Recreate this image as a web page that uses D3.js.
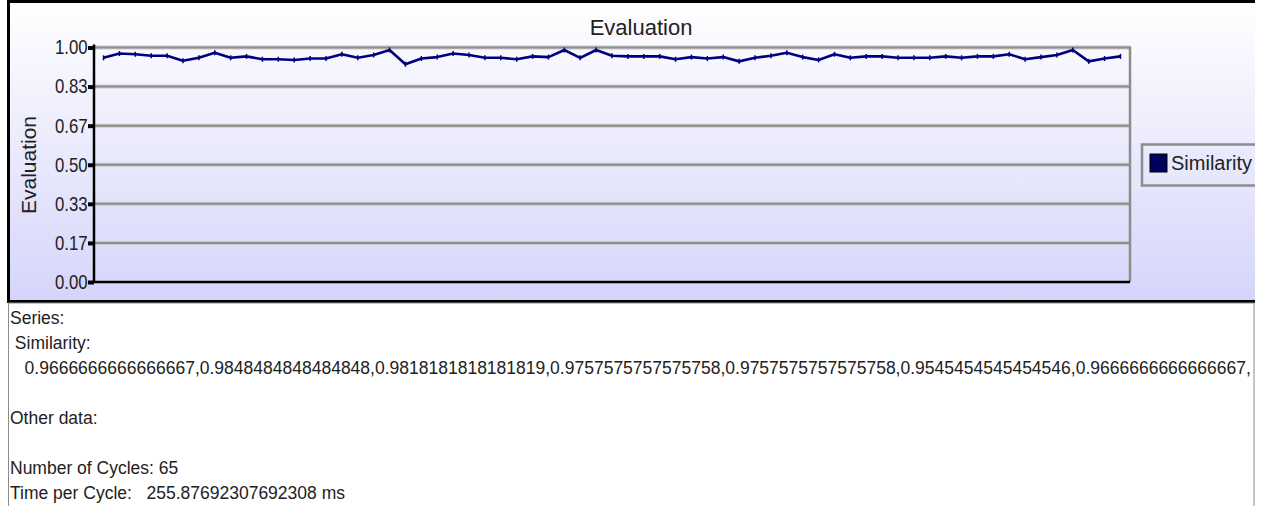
<!DOCTYPE html>
<html>
<head>
<meta charset="utf-8">
<script src="https://cdn.jsdelivr.net/npm/d3@7"></script>
<style>
html, body { margin: 0; padding: 0; background: #fff; overflow: hidden; }
text { font-family: "Liberation Sans", Arial, sans-serif; fill: #222; }
</style>
</head>
<body>
<svg id="chart" width="1261" height="506"></svg>
<script>
// similarity per cycle (first seven are printed in the panel below the chart)
const similarity = [
  0.9666666666666667, 0.9848484848484848, 0.9818181818181819, 0.9757575757575758,
  0.9757575757575758, 0.9545454545454546, 0.9666666666666667, 0.9879, 0.9667, 0.9727,
  0.9606, 0.9606, 0.9576, 0.9636, 0.9636, 0.9818, 0.9667, 0.9788, 1.0, 0.9394,
  0.9636, 0.9697, 0.9848, 0.9788, 0.9667, 0.9667, 0.9606, 0.9727, 0.9697, 1.0,
  0.9667, 1.0, 0.9758, 0.9727, 0.9727, 0.9727, 0.9606, 0.9697, 0.9636, 0.9697,
  0.9515, 0.9667, 0.9758, 0.9879, 0.9697, 0.9576, 0.9818, 0.9667, 0.9727, 0.9727,
  0.9667, 0.9667, 0.9667, 0.9727, 0.9667, 0.9727, 0.9727, 0.9818, 0.9606, 0.9697,
  0.9788, 1.0, 0.9515, 0.9636, 0.9727
];
const yTickLabels = ["0.00", "0.17", "0.33", "0.50", "0.67", "0.83", "1.00"];
const seriesName = "Similarity";
const chartTitle = "Evaluation";
const timePerCycle = "255.87692307692308";
const shownValues = 7; // how many values fit on the series line

const svg = d3.select("#chart");

const plot = { left: 94, right: 1130, top: 47.5, bottom: 282 };

const defs = svg.append("defs");
const grad = defs.append("linearGradient")
  .attr("id", "bg").attr("x1", 0).attr("y1", 0).attr("x2", 0).attr("y2", 1);
grad.append("stop").attr("offset", "0%").attr("stop-color", "#ffffff");
grad.append("stop").attr("offset", "100%").attr("stop-color", "#d5d5fb");

defs.append("clipPath").attr("id", "panelClip")
  .append("rect").attr("x", 0).attr("y", 0).attr("width", 1255).attr("height", 303);

// chart panel
const panel = svg.append("g").attr("clip-path", "url(#panelClip)");
panel.append("rect")
  .attr("x", 8).attr("y", 1).attr("width", 1260).attr("height", 300)
  .attr("fill", "url(#bg)");

const x = d3.scalePoint()
  .domain(d3.range(similarity.length))
  .range([plot.left, plot.right])
  .padding(0.6);

const y = d3.scaleLinear().domain([0, 1]).range([plot.bottom, plot.top]);
const yTickPos = d3.range(yTickLabels.length).map(i => i / (yTickLabels.length - 1));

// gridlines
const grid = panel.append("g");
grid.selectAll(".gl")
  .data(yTickPos.slice(1))
  .enter().append("line")
  .attr("x1", plot.left).attr("x2", plot.right)
  .attr("y1", d => y(d)).attr("y2", d => y(d))
  .attr("stroke", "#cacaca").attr("stroke-width", 4);
grid.selectAll(".gd")
  .data(yTickPos.slice(1))
  .enter().append("line")
  .attr("x1", plot.left).attr("x2", plot.right)
  .attr("y1", d => y(d)).attr("y2", d => y(d))
  .attr("stroke", "#8c8c8c").attr("stroke-width", 2);

// right border of plot
panel.append("line")
  .attr("x1", plot.right).attr("x2", plot.right)
  .attr("y1", plot.top - 1).attr("y2", plot.bottom)
  .attr("stroke", "#8c8c8c").attr("stroke-width", 2.5);

// y axis
const yAxis = d3.axisLeft(y)
  .tickValues(yTickPos)
  .tickFormat((d, i) => yTickLabels[i])
  .tickSize(6)
  .tickPadding(1.5);
const ya = panel.append("g")
  .attr("transform", `translate(${plot.left},0)`)
  .call(yAxis);
ya.select(".domain").remove();
ya.selectAll(".tick line").attr("stroke", "#000").attr("stroke-width", 4);
ya.selectAll(".tick text")
  .attr("font-size", 20).attr("fill", "#222")
  .attr("font-family", "'Liberation Sans', Arial, sans-serif")
  .attr("transform", "scale(0.84,1)");

panel.append("line")
  .attr("x1", plot.left).attr("x2", plot.left)
  .attr("y1", plot.top - 3).attr("y2", plot.bottom + 1)
  .attr("stroke", "#000").attr("stroke-width", 2.5);
panel.append("line")
  .attr("x1", plot.left).attr("x2", plot.right)
  .attr("y1", plot.bottom).attr("y2", plot.bottom)
  .attr("stroke", "#000").attr("stroke-width", 2.5);

// series line (the original draws it a couple of pixels low)
const lineG = panel.append("g").attr("transform", "translate(0,2.5)");
const line = d3.line().x((d, i) => x(i)).y(d => y(d));
lineG.append("path")
  .datum(similarity)
  .attr("d", line)
  .attr("fill", "none")
  .attr("stroke", "#00007f")
  .attr("stroke-width", 2.6)
  .attr("stroke-linejoin", "round");
lineG.selectAll(".mk")
  .data(similarity)
  .enter().append("line")
  .attr("x1", (d, i) => x(i)).attr("x2", (d, i) => x(i))
  .attr("y1", d => y(d) - 2.5).attr("y2", d => y(d) + 2.5)
  .attr("stroke", "#00007f").attr("stroke-width", 1.5);

// title
panel.append("text")
  .attr("x", 641).attr("y", 35)
  .attr("text-anchor", "middle")
  .attr("font-size", 22)
  .text(chartTitle);

// y label
panel.append("text")
  .attr("transform", "translate(36,165) rotate(-90)")
  .attr("text-anchor", "middle")
  .attr("font-size", 21)
  .text(chartTitle);

// legend
const lg = panel.append("g");
lg.append("rect")
  .attr("x", 1142).attr("y", 144.5).attr("width", 140).attr("height", 41)
  .attr("fill", "none").attr("stroke", "#8c8c8c").attr("stroke-width", 2.5);
lg.append("rect")
  .attr("x", 1150).attr("y", 154).attr("width", 17).attr("height", 18)
  .attr("fill", "#00005e").attr("stroke", "#000").attr("stroke-width", 1);
lg.append("text")
  .attr("x", 1171).attr("y", 170)
  .attr("font-size", 20)
  .text(seriesName);

// panel border
panel.append("path")
  .attr("d", "M8.5,303 L8.5,1.5 L1260,1.5 M8,301.5 L1260,301.5")
  .attr("fill", "none").attr("stroke", "#000").attr("stroke-width", 3);

// info panel
svg.append("rect")
  .attr("x", 8.5).attr("y", 303).attr("width", 1245.5).attr("height", 210)
  .attr("fill", "#fff").attr("stroke", "#8c8c8c").attr("stroke-width", 1);

const infoLines = [
  "Series:",
  " " + seriesName + ":",
  "   " + similarity.slice(0, shownValues).join(",") + ",",
  "",
  "Other data:",
  "",
  "Number of Cycles: " + similarity.length,
  "Time per Cycle:   " + timePerCycle + " ms"
];
svg.append("g")
  .selectAll("text")
  .data(infoLines)
  .enter().append("text")
  .attr("x", 10)
  .attr("y", (d, i) => 324 + i * 25)
  .attr("font-size", 17.5)
  .style("white-space", "pre")
  .text(d => d);
</script>
</body>
</html>
